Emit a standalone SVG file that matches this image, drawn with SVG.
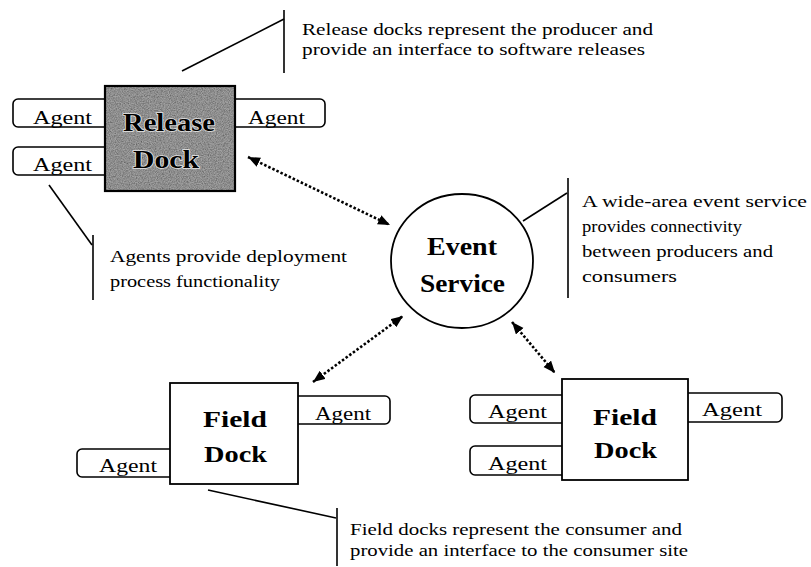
<svg xmlns="http://www.w3.org/2000/svg" width="811" height="567" viewBox="0 0 811 567">
<style>
.bg{fill:#fff}
.box{fill:#fff;stroke:#000;stroke-width:1.8}
.agent{fill:#fff;stroke:#000;stroke-width:1.6}
.at{font-family:"Liberation Serif","Times New Roman",serif;font-size:18.5px;fill:#000}
.lbl{font-family:"Liberation Serif","Times New Roman",serif;font-weight:bold;fill:#000}
.note{font-family:"Liberation Serif","Times New Roman",serif;font-size:16.5px;fill:#000}
.cl{fill:none;stroke:#000;stroke-width:1.6}
.conn{fill:none;stroke:#000;stroke-width:2.6;stroke-dasharray:2.5 2;marker-start:url(#ah);marker-end:url(#ah)}
</style>
<defs>
<marker id="ah" markerUnits="userSpaceOnUse" markerWidth="14" markerHeight="12" refX="12" refY="5" orient="auto-start-reverse">
<path d="M0,0 L12,5 L0,10 z" fill="#000"/>
</marker>
<filter id="noise" x="0" y="0" width="100%" height="100%">
<feTurbulence type="fractalNoise" baseFrequency="0.85" numOctaves="2" seed="7" result="t"/>
<feColorMatrix in="t" type="matrix" values="0 0 0 0 0  0 0 0 0 0  0 0 0 0 0  1.3 0 0 0 -0.35" result="a"/>
<feFlood flood-color="#444" result="d"/>
<feComposite in="d" in2="a" operator="in" result="spk"/>
<feMerge result="m"><feMergeNode in="SourceGraphic"/><feMergeNode in="spk"/></feMerge>
<feComposite in="m" in2="SourceGraphic" operator="in"/>
</filter>
</defs>
<rect class="bg" x="0" y="0" width="811" height="567"/>

<g id="callouts">
<g id="note-release">
<polyline class="cl" points="182,71 284,19"/>
<line class="cl" x1="284" y1="10" x2="284" y2="73"/>
<text class="note" x="302" y="35" textLength="351" lengthAdjust="spacingAndGlyphs">Release docks represent the producer and</text>
<text class="note" x="302" y="55" textLength="343" lengthAdjust="spacingAndGlyphs">provide an interface to software releases</text>
</g>
<g id="note-agents">
<line class="cl" x1="49" y1="185" x2="92" y2="245"/>
<line class="cl" x1="93" y1="235" x2="93" y2="300"/>
<text class="note" x="110" y="262" textLength="237" lengthAdjust="spacingAndGlyphs">Agents provide deployment</text>
<text class="note" x="110" y="287" textLength="170" lengthAdjust="spacingAndGlyphs">process functionality</text>
</g>
<g id="note-event">
<line class="cl" x1="523" y1="221" x2="567" y2="193"/>
<line class="cl" x1="568" y1="178" x2="568" y2="298"/>
<text class="note" x="582" y="207" textLength="225" lengthAdjust="spacingAndGlyphs">A wide-area event service</text>
<text class="note" x="582" y="232" textLength="160" lengthAdjust="spacingAndGlyphs">provides connectivity</text>
<text class="note" x="582" y="257" textLength="191" lengthAdjust="spacingAndGlyphs">between producers and</text>
<text class="note" x="582" y="282" textLength="95" lengthAdjust="spacingAndGlyphs">consumers</text>
</g>
<g id="note-field">
<line class="cl" x1="208" y1="490" x2="336" y2="518"/>
<line class="cl" x1="337" y1="508" x2="337" y2="566"/>
<text class="note" x="350" y="535" textLength="332" lengthAdjust="spacingAndGlyphs">Field docks represent the consumer and</text>
<text class="note" x="350" y="556" textLength="338" lengthAdjust="spacingAndGlyphs">provide an interface to the consumer site</text>
</g>
</g>

<g id="connectors">
<line class="conn" x1="248" y1="157" x2="390" y2="225"/>
<line class="conn" x1="313" y1="382" x2="403" y2="316"/>
<line class="conn" x1="512" y1="322" x2="555" y2="373"/>
</g>

<g id="release-agent-left-top">
<rect class="agent" x="13" y="99" width="105" height="28" rx="5"/>
<text class="at" x="33" y="124" textLength="59" lengthAdjust="spacingAndGlyphs">Agent</text>
</g>
<g id="release-agent-left-bottom">
<rect class="agent" x="13" y="147" width="105" height="28" rx="5"/>
<text class="at" x="33" y="171" textLength="59" lengthAdjust="spacingAndGlyphs">Agent</text>
</g>
<g id="release-agent-right">
<rect class="agent" x="222" y="99" width="103" height="28" rx="5"/>
<text class="at" x="248" y="124" textLength="57" lengthAdjust="spacingAndGlyphs">Agent</text>
</g>
<g id="release-dock">
<rect x="105" y="86" width="130" height="105" fill="#a2a2a2" filter="url(#noise)"/>
<rect x="105" y="86" width="130" height="105" fill="none" stroke="#000" stroke-width="2.2"/>
<text class="lbl" x="123" y="131" font-size="26" textLength="92" lengthAdjust="spacingAndGlyphs" stroke="#e6e6e6" stroke-width="1.6" paint-order="stroke">Release</text>
<text class="lbl" x="133" y="168" font-size="26" textLength="66" lengthAdjust="spacingAndGlyphs" stroke="#e6e6e6" stroke-width="1.6" paint-order="stroke">Dock</text>
</g>

<g id="event-service">
<ellipse class="box" cx="462" cy="261" rx="71" ry="67"/>
<text class="lbl" x="427" y="255" font-size="26" textLength="70" lengthAdjust="spacingAndGlyphs">Event</text>
<text class="lbl" x="420" y="292" font-size="26" textLength="85" lengthAdjust="spacingAndGlyphs">Service</text>
</g>

<g id="field1-agent-right">
<rect class="agent" x="285" y="396" width="105" height="28" rx="5"/>
<text class="at" x="315" y="420" textLength="56" lengthAdjust="spacingAndGlyphs">Agent</text>
</g>
<g id="field1-agent-left">
<rect class="agent" x="77" y="449" width="105" height="28" rx="5"/>
<text class="at" x="99" y="472" textLength="58" lengthAdjust="spacingAndGlyphs">Agent</text>
</g>
<g id="field-dock-1">
<rect class="box" x="170" y="383" width="128" height="101"/>
<text class="lbl" x="203" y="427" font-size="24" textLength="64" lengthAdjust="spacingAndGlyphs">Field</text>
<text class="lbl" x="204" y="462" font-size="24" textLength="63" lengthAdjust="spacingAndGlyphs">Dock</text>
</g>

<g id="field2-agent-left-top">
<rect class="agent" x="470" y="395" width="105" height="28" rx="5"/>
<text class="at" x="488" y="418" textLength="59" lengthAdjust="spacingAndGlyphs">Agent</text>
</g>
<g id="field2-agent-left-bottom">
<rect class="agent" x="470" y="446" width="105" height="29" rx="5"/>
<text class="at" x="488" y="470" textLength="59" lengthAdjust="spacingAndGlyphs">Agent</text>
</g>
<g id="field2-agent-right">
<rect class="agent" x="675" y="393" width="107" height="29" rx="5"/>
<text class="at" x="702" y="416" textLength="60" lengthAdjust="spacingAndGlyphs">Agent</text>
</g>
<g id="field-dock-2">
<rect class="box" x="562" y="379" width="126" height="101"/>
<text class="lbl" x="593" y="425" font-size="24" textLength="64" lengthAdjust="spacingAndGlyphs">Field</text>
<text class="lbl" x="594" y="458" font-size="24" textLength="63" lengthAdjust="spacingAndGlyphs">Dock</text>
</g>
</svg>
